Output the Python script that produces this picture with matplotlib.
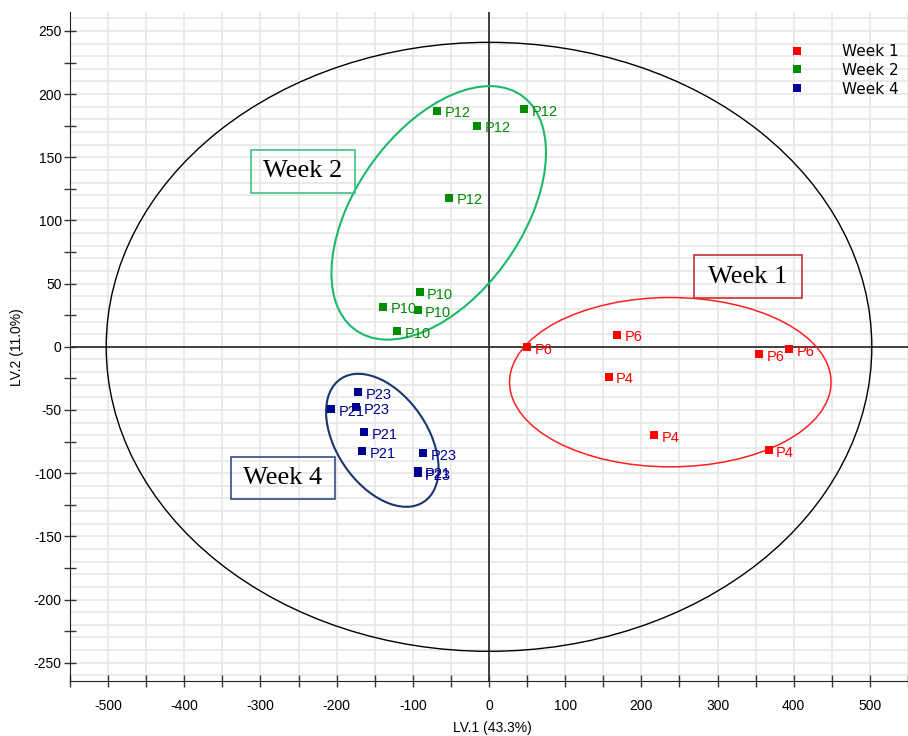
import numpy as np
import matplotlib
matplotlib.use("Agg")
import matplotlib.pyplot as plt
from matplotlib.patches import Ellipse, Rectangle
from matplotlib.lines import Line2D

plt.rcParams["axes.unicode_minus"] = False

# scores (LV.1, LV.2)
WEEK1_X = [50, 168, 354, 394, 157, 217, 367]
WEEK1_Y = [-0.5, 9.7, -6, -1.6, -23.5, -69.6, -81.5]
WEEK1_LABELS = ["P6", "P6", "P6", "P6", "P4", "P4", "P4"]

WEEK2_X = [-67.7, -15.6, 46.5, -52, -91.1, -139.3, -93.8, -121]
WEEK2_Y = [187, 175, 188, 118.1, 43, 31.9, 29.3, 12.7]
WEEK2_LABELS = ["P12", "P12", "P12", "P12", "P10", "P10", "P10", "P10"]

WEEK4_X = [-171.9, -207.4, -174, -164, -166.7, -86.3, -93.8, -93.8]
WEEK4_Y = [-36.1, -49, -48, -67.5, -82.8, -84.1, -98.4, -100]
WEEK4_LABELS = ["P23", "P21", "P23", "P21", "P21", "P23", "P21", "P23"]

GROUP_NAMES = ["Week 1", "Week 2", "Week 4"]
GROUP_COLORS = ["#ff0000", "#008c00", "#000090"]

# group confidence ellipses (center, width, height, angle) and Hotelling T2 ellipse
ELLIPSE_CX = [238, -66, -140]
ELLIPSE_CY = [-28, 106, -74]
ELLIPSE_W = [422, 305, 158]
ELLIPSE_H = [134, 163, 89]
ELLIPSE_ANGLE = [0, 27, -25.5]
ELLIPSE_COLORS = ["#ff2020", "#1db86a", "#1a3570"]
T2_W, T2_H = 1005, 482

# annotation boxes: (left, bottom, right, top) in data units
BOX_TEXT = ["Week 1", "Week 2", "Week 4"]
BOX_EXTENT = [(268.6, 38.5, 410.5, 72.8), (-312.1, 122.1, -176.2, 155.9),
              (-338.9, -120.5, -202.2, -87.3)]
BOX_COLORS = ["#c83232", "#40c080", "#2f4f80"]

fig = plt.figure(figsize=(9.08, 7.36), dpi=100)
ax = fig.add_axes([70 / 908, 55 / 736, 838 / 908, 669 / 736])
ax.set_xlim(-550, 542)
ax.set_ylim(-264.5, 265)

# light grid: vertical every 50, horizontal every 10
ax.vlines(np.arange(-550, 551, 50), -300, 300, colors="#e6e6e6", lw=1.2, zorder=0)
ax.hlines(np.arange(-260, 261, 10), -600, 600, colors="#e6e6e6", lw=1.2, zorder=0)
ax.axhline(0, color="#333333", lw=1.3, zorder=1)
ax.axvline(0, color="#333333", lw=1.3, zorder=1)

ax.add_patch(Ellipse((0, 0), T2_W, T2_H, fill=False, ec="black", lw=1, zorder=2))
for cx, cy, w, h, a, c in zip(ELLIPSE_CX, ELLIPSE_CY, ELLIPSE_W, ELLIPSE_H,
                              ELLIPSE_ANGLE, ELLIPSE_COLORS):
    ax.add_patch(Ellipse((cx, cy), w, h, angle=a, fill=False, ec=c,
                         lw=1.5 if c != "#ff2020" else 1.1, zorder=2))

groups = [(WEEK1_X, WEEK1_Y, WEEK1_LABELS), (WEEK2_X, WEEK2_Y, WEEK2_LABELS),
          (WEEK4_X, WEEK4_Y, WEEK4_LABELS)]
for (xs, ys, labs), color in zip(groups, GROUP_COLORS):
    ax.scatter(xs, ys, marker="s", s=36, color=color, lw=0, zorder=4)
    for x, y, lab in zip(xs, ys, labs):
        ax.annotate(lab, (x, y), xytext=(5.5, -2), textcoords="offset points",
                    ha="left", va="center", fontsize=10.5, color=color,
                    family="Liberation Sans", zorder=5)

for txt, (l, b, r, t), c in zip(BOX_TEXT, BOX_EXTENT, BOX_COLORS):
    ax.add_patch(Rectangle((l, b), r - l, t - b, fill=False, ec=c, lw=1.2, zorder=3))
    ax.text((l + r) / 2, (b + t) / 2, txt, ha="center", va="center",
            fontsize=19, family="Liberation Serif", color="black", zorder=5)

# ticks
ax.set_xticks(np.arange(-500, 501, 100))
ax.set_xticks(np.arange(-550, 551, 50), minor=True)
ax.set_yticks(np.arange(-250, 251, 50))
ax.set_yticks(np.arange(-250, 251, 25), minor=True)
ax.tick_params(which="both", direction="inout", length=8, width=1, color="#333333")
ax.tick_params(axis="x", which="major", pad=9)
ax.tick_params(axis="y", which="major", pad=2)
for lab in ax.get_xticklabels() + ax.get_yticklabels():
    lab.set_family("Liberation Sans")
    lab.set_fontsize(10)

for side in ["top", "right"]:
    ax.spines[side].set_visible(False)
for side in ["left", "bottom"]:
    ax.spines[side].set_color("#222222")

ax.set_xlabel("LV.1 (43.3%)", fontsize=10, family="Liberation Sans")
ax.set_ylabel("LV.2 (11.0%)", fontsize=10, family="Liberation Sans")
ax.xaxis.label.set_va("center")
ax.yaxis.label.set_va("center")
ax.xaxis.set_label_coords(0.5036, -0.0703)
ax.yaxis.set_label_coords(-0.0636, 0.4993)

handles = [Line2D([], [], marker="s", ls="none", color=c, markersize=6, mew=0)
           for c in GROUP_COLORS]
ax.legend(handles, GROUP_NAMES, loc="upper left", frameon=False,
          bbox_to_anchor=(789 / 908, 1 - 44 / 736), bbox_transform=fig.transFigure,
          borderpad=0, borderaxespad=0, handlelength=1, handletextpad=2.5,
          labelspacing=0.25, prop={"family": "DejaVu Sans", "size": 11})

fig.savefig("out.png", dpi=100)
